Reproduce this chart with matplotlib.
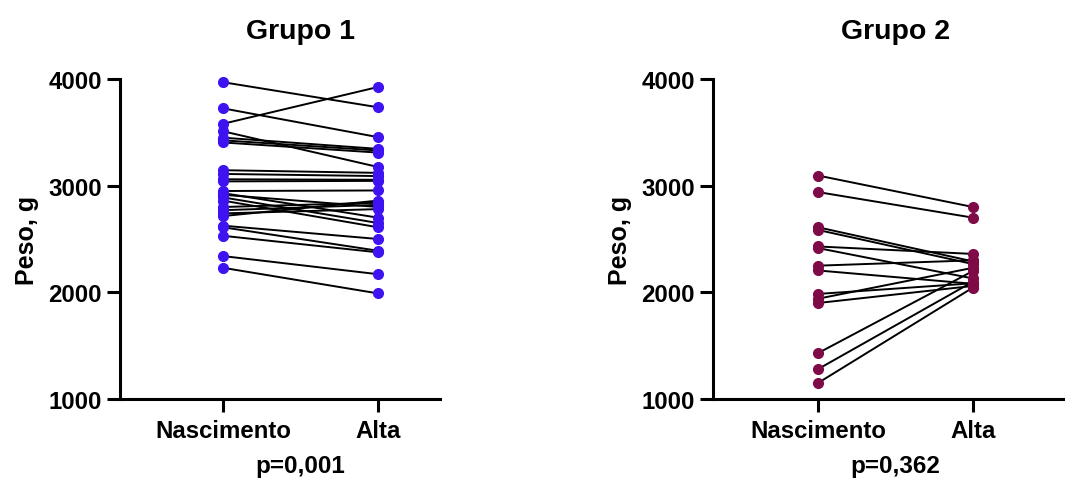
import matplotlib
matplotlib.use("Agg")
import matplotlib.pyplot as plt
import matplotlib.transforms as mtransforms

plt.rcParams['font.family'] = ['Liberation Sans', 'DejaVu Sans']
plt.rcParams['font.weight'] = 'bold'

categories = ["Nascimento", "Alta"]

# Grupo 1: birth weight and discharge weight (g), paired
g1_nascimento = [3970, 3725, 3580, 3510, 3450, 3425, 3405, 3145, 3110, 3060, 3040,
                 2950, 2930, 2915, 2890, 2860, 2800, 2770, 2740, 2715, 2625, 2610,
                 2530, 2340, 2230]
g1_alta = [3735, 3455, 3925, 3175, 3345, 3330, 3310, 3120, 3090, 3055, 3045,
           2955, 2700, 2800, 2650, 2610, 2840, 2820, 2780, 2860, 2500, 2390,
           2375, 2170, 1990]

# Grupo 2
g2_nascimento = [3095, 2940, 2610, 2585, 2430, 2415, 2250, 2205, 1985, 1940, 1900,
                 1430, 1280, 1150]
g2_alta = [2800, 2700, 2290, 2265, 2360, 2130, 2300, 2080, 2085, 2230, 2060,
           2200, 2100, 2045]

yticks = [1000, 2000, 3000, 4000]
titles = ["Grupo 1", "Grupo 2"]
pvalues = ["p=0,001", "p=0,362"]
colors = ["#3F12F2", "#7E0B47"]

W, H = 1065, 481
fig = plt.figure(figsize=(W / 100, H / 100), dpi=100)

panels = [
    dict(left=120, right=440, cat0=223, cat1=378),
    dict(left=713, right=1065, cat0=818, cat1=973),
]
data = [(g1_nascimento, g1_alta), (g2_nascimento, g2_alta)]

top_px, bot_px = 80, 400
for i, (p, (before, after)) in enumerate(zip(panels, data)):
    ax = fig.add_axes([p['left'] / W, 1 - bot_px / H,
                       (p['right'] - p['left']) / W, (bot_px - top_px) / H])
    span = p['cat1'] - p['cat0']
    xl = -(p['cat0'] - p['left']) / span
    xr = xl + (p['right'] - p['left']) / span
    ax.set_xlim(xl, xr)
    ax.set_ylim(1000, 4000)
    for b, a in zip(before, after):
        ax.plot([0, 1], [b, a], color='black', lw=1.4, zorder=2,
                solid_capstyle='round')
    ax.plot([0] * len(before), before, 'o', color=colors[i], ms=7,
            mec=colors[i], zorder=3, clip_on=False)
    ax.plot([1] * len(after), after, 'o', color=colors[i], ms=7,
            mec=colors[i], zorder=3, clip_on=False)

    for s in ['top', 'right']:
        ax.spines[s].set_visible(False)
    for s in ['left', 'bottom']:
        ax.spines[s].set_linewidth(2.2)
    ax.set_yticks(yticks)
    ax.set_yticklabels([str(v) for v in yticks], fontsize=17.3, fontweight='bold')
    ax.set_xticks([0, 1])
    ax.set_xticklabels(categories, fontsize=17.3, fontweight='bold')
    ax.tick_params(axis='y', length=9.5, width=2.2, pad=3.5)
    ax.tick_params(axis='x', length=9.5, width=2.2, pad=5)
    ax.set_ylabel("Peso, g", fontsize=18, fontweight='bold', labelpad=7)

    trans = mtransforms.blended_transform_factory(ax.transData, fig.transFigure)
    ax.text(0.5, 1 - 32 / H, titles[i], transform=trans, ha='center',
            va='center', fontsize=20.5, fontweight='bold')
    ax.text(0.5, 1 - 466 / H, pvalues[i], transform=trans, ha='center',
            va='center', fontsize=17.5, fontweight='bold')

fig.savefig("out.png", dpi=100)
